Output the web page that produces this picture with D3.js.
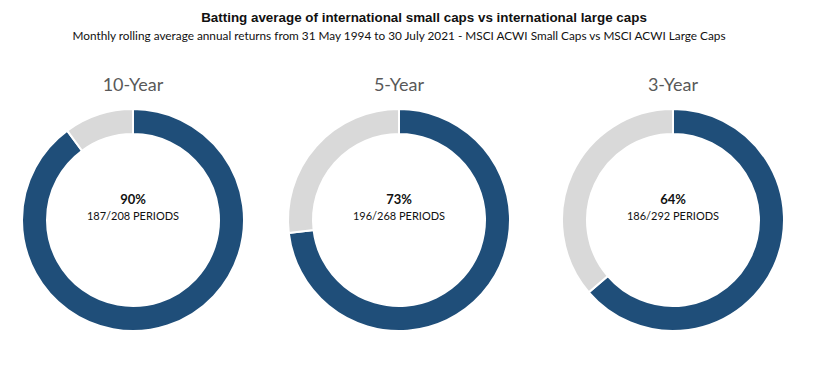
<!DOCTYPE html>
<html>
<head>
<meta charset="utf-8">
<script src="https://cdn.jsdelivr.net/npm/d3@7"></script>
<style>
  body { margin: 0; background: #fff; }
</style>
</head>
<body>
<div id="chart"></div>
<script>
var periods = ["10-Year", "5-Year", "3-Year"];
var wins = [187, 196, 186];
var totals = [208, 268, 292];
var pctLabels = ["90%", "73%", "64%"];

var width = 814, height = 373;
var outerR = 111, innerR = 86;

var svg = d3.select("#chart").append("svg")
  .attr("width", width)
  .attr("height", height);

svg.append("text")
  .attr("x", 424).attr("y", 22)
  .attr("text-anchor", "middle")
  .attr("font-family", "Liberation Sans Narrow, Arial Narrow, sans-serif")
  .attr("font-weight", "bold")
  .attr("font-size", 13.4)
  .attr("fill", "#111")
  .text("Batting average of international small caps vs international large caps");

svg.append("text")
  .attr("x", 399).attr("y", 40)
  .attr("text-anchor", "middle")
  .attr("font-family", "Lato, sans-serif")
  .attr("font-size", 11.8)
  .attr("fill", "#111")
  .text("Monthly rolling average annual returns from 31 May 1994 to 30 July 2021 - MSCI ACWI Small Caps vs MSCI ACWI Large Caps");

// centres of the three donuts
var x = d3.scaleOrdinal().domain(periods).range([133, 399, 673]);

var pie = d3.pie().sort(null).value(function (d) { return d; });
var arc = d3.arc().innerRadius(innerR).outerRadius(outerR);
var colors = ["#1f4e79", "#d9d9d9"];

periods.forEach(function (p, i) {
  var g = svg.append("g")
    .attr("transform", "translate(" + x(p) + ",220)");

  g.selectAll("path")
    .data(pie([wins[i], totals[i] - wins[i]]))
    .enter().append("path")
    .attr("d", arc)
    .attr("fill", function (d, j) { return colors[j]; })
    .attr("stroke", "#fff")
    .attr("stroke-width", 2);

  svg.append("text")
    .attr("x", x(p)).attr("y", 91)
    .attr("text-anchor", "middle")
    .attr("font-family", "Lato, sans-serif")
    .attr("font-size", 18)
    .attr("fill", "#595959")
    .text(p);

  g.append("text")
    .attr("y", -16)
    .attr("text-anchor", "middle")
    .attr("font-family", "Lato, sans-serif")
    .attr("font-weight", "bold")
    .attr("font-size", 13)
    .attr("fill", "#111")
    .text(pctLabels[i]);

  g.append("text")
    .attr("y", 0)
    .attr("text-anchor", "middle")
    .attr("font-family", "Lato, sans-serif")
    .attr("font-size", 11)
    .attr("fill", "#111")
    .text(wins[i] + "/" + totals[i] + " PERIODS");
});
</script>
</body>
</html>
